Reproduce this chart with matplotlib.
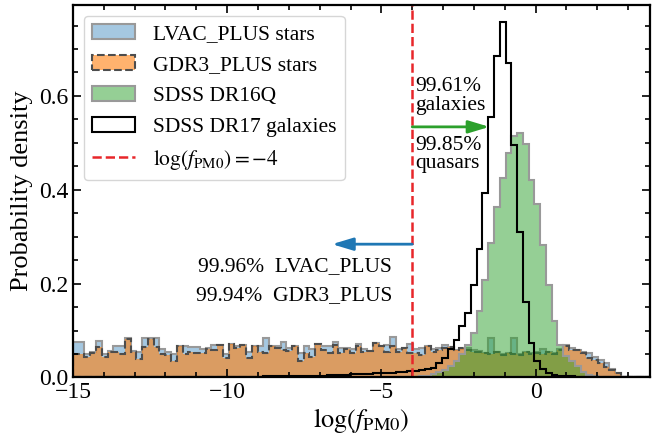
import matplotlib
matplotlib.use("Agg")
import matplotlib.pyplot as plt
import numpy as np
from matplotlib.colors import to_rgba

plt.rcParams["font.family"] = ["Liberation Serif", "DejaVu Serif"]
plt.rcParams["mathtext.fontset"] = "stix"
plt.rcParams["font.size"] = 15.5

# common binning for all samples
bin_edges = np.linspace(-15, 3.7, 101)

# densities per bin (100 bins)
lvac_density = [
    0.075, 0.075, 0.050, 0.055, 0.078, 0.050, 0.056, 0.068, 0.066, 0.085,
    0.056, 0.055, 0.085, 0.085, 0.085, 0.060, 0.055, 0.050, 0.068, 0.066,
    0.064, 0.064, 0.060, 0.062, 0.069, 0.069, 0.050, 0.071, 0.066, 0.069,
    0.055, 0.066, 0.066, 0.084, 0.067, 0.066, 0.076, 0.062, 0.066, 0.052,
    0.066, 0.060, 0.071, 0.066, 0.066, 0.076, 0.062, 0.062, 0.060, 0.072,
    0.060, 0.057, 0.074, 0.066, 0.069, 0.087, 0.060, 0.062, 0.072, 0.060,
    0.062, 0.066, 0.060, 0.062, 0.070, 0.064, 0.058, 0.060, 0.062, 0.058,
    0.056, 0.052, 0.085, 0.055, 0.050, 0.052, 0.085, 0.050, 0.055, 0.052,
    0.055, 0.060, 0.055, 0.052, 0.060, 0.069, 0.062, 0.059, 0.055, 0.052,
    0.044, 0.037, 0.030, 0.017, 0.009, 0.0, 0.0, 0.0, 0.0, 0.0,
]
gdr3_density = [
    0.051, 0.051, 0.043, 0.052, 0.065, 0.043, 0.054, 0.054, 0.051, 0.082,
    0.054, 0.040, 0.065, 0.082, 0.065, 0.051, 0.048, 0.035, 0.068, 0.051,
    0.055, 0.052, 0.052, 0.060, 0.059, 0.069, 0.041, 0.071, 0.062, 0.069,
    0.041, 0.066, 0.055, 0.052, 0.067, 0.062, 0.059, 0.057, 0.066, 0.034,
    0.052, 0.044, 0.071, 0.059, 0.052, 0.069, 0.052, 0.060, 0.052, 0.066,
    0.055, 0.057, 0.074, 0.066, 0.055, 0.066, 0.055, 0.062, 0.052, 0.052,
    0.048, 0.066, 0.055, 0.059, 0.062, 0.064, 0.058, 0.062, 0.058, 0.055,
    0.054, 0.052, 0.050, 0.055, 0.048, 0.052, 0.050, 0.048, 0.055, 0.050,
    0.052, 0.050, 0.055, 0.050, 0.058, 0.066, 0.059, 0.059, 0.052, 0.041,
    0.037, 0.030, 0.023, 0.016, 0.009, 0.0, 0.0, 0.0, 0.0, 0.0,
]
qso_density = [0.0] * 60 + [
    0.002, 0.004, 0.007, 0.011, 0.016, 0.024, 0.035, 0.050, 0.070, 0.095,
    0.141, 0.208, 0.287, 0.364, 0.425, 0.479, 0.515, 0.522, 0.498, 0.421,
    0.370, 0.283, 0.196, 0.120, 0.070, 0.045, 0.035, 0.025, 0.012, 0.006,
    0.003, 0.0, 0.0, 0.0, 0.0, 0.0, 0.0, 0.0, 0.0, 0.0,
]
galaxy_density = [0.0] * 30 + [
    0.001, 0.001, 0.001, 0.002, 0.002, 0.002, 0.002, 0.003, 0.003, 0.003,
    0.003, 0.004, 0.004, 0.004, 0.005, 0.005, 0.006, 0.006, 0.007, 0.007,
    0.008, 0.008, 0.009, 0.009, 0.010, 0.010, 0.011, 0.012, 0.013, 0.013,
    0.015, 0.018, 0.021, 0.030, 0.041, 0.061, 0.080, 0.110, 0.138, 0.196,
    0.274, 0.394, 0.556, 0.684, 0.758, 0.671, 0.496, 0.309, 0.160, 0.074,
    0.035, 0.017, 0.010, 0.006, 0.004, 0.003, 0.002, 0.001, 0.0, 0.0,
    0.0, 0.0, 0.0, 0.0, 0.0, 0.0, 0.0, 0.0, 0.0, 0.0,
]

cut = -4
frac_gal, frac_qso = "99.61%", "99.85%"
frac_lvac, frac_gdr3 = "99.96%", "99.94%"

centers = 0.5 * (bin_edges[:-1] + bin_edges[1:])

fig = plt.figure(figsize=(6.57, 4.43), dpi=100)
ax = fig.add_axes([0.111, 0.148, 0.878, 0.841])

ax.hist(centers, bins=bin_edges, weights=lvac_density, histtype="stepfilled",
        facecolor=to_rgba("tab:blue", 0.4), edgecolor="0.6", lw=1.5,
        label="LVAC_PLUS stars")
ax.hist(centers, bins=bin_edges, weights=gdr3_density, histtype="stepfilled",
        facecolor=to_rgba("tab:orange", 0.6), edgecolor="0.3", lw=1.5,
        linestyle="--", label="GDR3_PLUS stars")
ax.hist(centers, bins=bin_edges, weights=qso_density, histtype="stepfilled",
        facecolor=to_rgba("tab:green", 0.5), edgecolor="0.6", lw=1.5,
        label="SDSS DR16Q")
ax.hist(centers, bins=bin_edges, weights=galaxy_density, histtype="step",
        color="k", lw=1.5, label="SDSS DR17 galaxies")
ax.axvline(cut, color="#e8262a", ls="--", lw=1.8,
           label=r"$\log(f_{\rm PM0})=-4$")

arrow_kw = dict(arrowstyle="-|>,head_length=0.63,head_width=0.19",
                lw=2, mutation_scale=20, shrinkA=0, shrinkB=0)
ax.annotate("", xy=(-6.6, 0.284), xytext=(cut, 0.284),
            arrowprops=dict(color="tab:blue", **arrow_kw))
ax.annotate("", xy=(-1.5, 0.534), xytext=(cut, 0.534),
            arrowprops=dict(color="tab:green", **arrow_kw))

ax.text(cut + 0.1, 0.56, frac_gal + "\ngalaxies", ha="left", va="bottom",
        linespacing=0.95)
ax.text(cut + 0.1, 0.515, frac_qso + "\nquasars", ha="left", va="top",
        linespacing=0.95)
ax.text(-4.65, 0.236, frac_lvac + "  LVAC_PLUS", ha="right", va="center")
ax.text(-4.65, 0.174, frac_gdr3 + "  GDR3_PLUS", ha="right", va="center")

ax.set_xlim(-15, 3.7)
ax.set_ylim(0, 0.794)
ax.set_xticks([-15, -10, -5, 0])
ax.set_yticks([0.0, 0.2, 0.4, 0.6])
ax.set_xticks(np.arange(-15, 4, 1), minor=True)
ax.set_yticks(np.arange(0, 0.8, 0.05), minor=True)
ax.tick_params(which="both", direction="in", top=True, right=True, width=1.2,
               labelsize=17)
ax.tick_params(which="major", length=6)
ax.tick_params(which="minor", length=3.5)
for s in ax.spines.values():
    s.set_linewidth(1.6)

ax.set_xlabel(r"$\log(f_{\rm PM0})$", fontsize=19, labelpad=2)
ax.set_ylabel("Probability density", fontsize=19, labelpad=4)

ax.legend(loc="upper left", framealpha=0.8, fancybox=True)

fig.savefig("out.png", dpi=100)
